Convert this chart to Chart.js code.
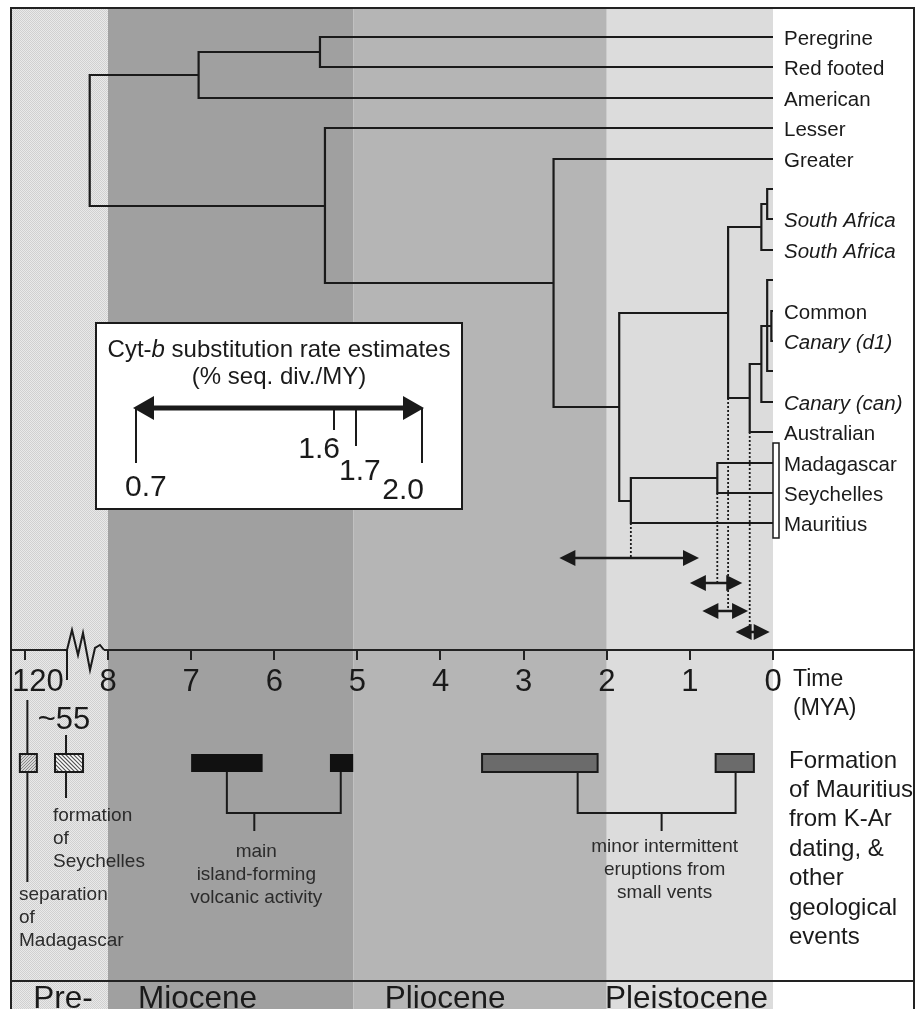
<!DOCTYPE html>
<html><head><meta charset="utf-8">
<script src="https://cdn.jsdelivr.net/npm/chart.js@4.4.1/dist/chart.umd.min.js"></script>
<style>html,body{margin:0;padding:0;background:#fff;overflow:hidden}canvas{display:block}</style>
</head><body>
<canvas id="c" width="916" height="1009"></canvas>
<script>
// ---------------- DATA ----------------
// Tree tips (top to bottom)
const tipNames  = ['Peregrine','Red footed','American','Lesser','Greater','','South Africa','South Africa','','Common','Canary (d1)','','Canary (can)','Australian','Madagascar','Seychelles','Mauritius'];
const tipItalic = [0,0,0,0,0,0,1,1,0,0,1,0,1,0,0,0,0];
// Internal nodes: age (MYA) and children
const nodeIds   = ['n1','n2','n3','n4','n5','n6','n7','n8','n9','n10','n11','n12','n13','n14','n15'];
const nodeAges  = [5.45, 6.91, 8.22, 5.39, 2.64, 1.85, 0.54, 0.14, 0.07, 0.28, 0.14, 0.07, 0.02, 1.71, 0.67];
const nodeKids  = [['t0','t1'],['n1','t2'],['n2','n4'],['t3','n5'],['t4','n6'],['n7','n14'],['n8','n10'],['n9','t7'],['t5','t6'],['n11','t13'],['n12','t12'],['t8','n13','t11'],['t9','t10'],['n15','t16'],['t14','t15']];
// Dated nodes and their age ranges (double-headed arrows)
const datedNodes = ['n14','n15','n7','n10'];
const rangeOld   = [2.57, 1.00, 0.85, 0.45];
const rangeYoung = [0.89, 0.37, 0.30, 0.04];
// Time axis
const axisTickPos    = [0,1,2,3,4,5,6,7,8,9.0];
const axisTickLabels = ['0','1','2','3','4','5','6','7','8','   120'];
// Epochs
const epochNames = ['Pre-','Miocene','Pliocene','Pleistocene'];
const epochOld   = [9.17, 8.0, 5.05, 2.0];
const epochYoung = [8.0, 5.05, 2.0, 0.0];
const epochColors= ['stipple','#a0a0a0','#b5b5b5','#dcdcdc'];
const epochLabelAt = [8.9, 7.64, 4.67, 2.02];
// Geological events (broken-axis positions)
const geoEventLabels = ['120','~55'];
const geoEventPos    = [8.97, 8.505];
// Mauritius formation (K-Ar) — MYA ranges
const mainVolcanic   = [[7.0, 6.14],[5.33, 5.05]];
const minorEruptions = [[3.50, 2.11],[0.69, 0.23]];
const mainBracket    = [6.57, 5.20, 6.24];
const minorBracket   = [2.35, 0.45, 1.34];
// Cyt-b substitution rate estimates (% seq. div./MY)
const rateValues = [0.7, 1.6, 1.7, 2.0];
const rateLabels = ['0.7','1.6','1.7','2.0'];

// ---------------- LAYOUT ----------------
const W = 916, H = 1009;
const FONT = '"Liberation Sans", Arial, Helvetica, sans-serif';
const INK = '#1a1a1a';
const PX_PER_MY = 83.125, ZERO_PX = 773;
const X_MAX = ZERO_PX / PX_PER_MY;
const X_MIN = -(W - ZERO_PX) / PX_PER_MY;
const AXIS_Y = 650;
const tipY = i => Math.round(37 + 30.4 * i);

// build tree geometry from node arrays
const nodeIndex = {}; nodeIds.forEach((id,i)=>nodeIndex[id]=i);
function ageOf(id){ return id[0]==='t' ? 0 : nodeAges[nodeIndex[id]]; }
function yOf(id){
  if (id[0]==='t') return tipY(+id.slice(1));
  const k = nodeKids[nodeIndex[id]];
  return Math.round((yOf(k[0]) + yOf(k[k.length-1]))/2);
}
const treePts = [];
nodeIds.forEach((id,i)=>{
  const k = nodeKids[i], a = nodeAges[i];
  const f = k[0], l = k[k.length-1];
  treePts.push({x:ageOf(f),y:yOf(f)},{x:a,y:yOf(f)},{x:a,y:yOf(l)},{x:ageOf(l),y:yOf(l)},{x:null,y:null});
  for (let j=1;j<k.length-1;j++) treePts.push({x:a,y:yOf(k[j])},{x:ageOf(k[j]),y:yOf(k[j])},{x:null,y:null});
});
const arrowY = [558, 583, 611, 632];
const dropPts = [];
datedNodes.forEach((id,i)=>{
  const k = nodeKids[nodeIndex[id]];
  dropPts.push({x:ageOf(id), y:yOf(k[k.length-1])},{x:ageOf(id), y:arrowY[i]},{x:null,y:null});
});

function makePattern(size, draw){
  const c = document.createElement('canvas'); c.width = c.height = size;
  draw(c.getContext('2d')); return c;
}
const stippleCanvas = makePattern(2, g=>{ g.fillStyle='#e9e9e9'; g.fillRect(0,0,2,2); g.fillStyle='#d0d0d0'; g.fillRect(0,0,1,1); g.fillRect(1,1,1,1); });
const speckCanvas = makePattern(3, g=>{ g.fillStyle='#d6d6d6'; g.fillRect(0,0,3,3); g.fillStyle='#8a8a8a'; g.fillRect(0,0,1,1); g.fillRect(2,1,1,1); g.fillRect(1,2,1,1); });

function multiline(ctx, lines, x, y0, dy, align){
  ctx.textAlign = align; ctx.textBaseline = 'middle';
  lines.forEach((t,i)=>ctx.fillText(t, x, y0 + dy*i));
}
function dblArrow(ctx, x0, x1, y, lw, hl, hw){
  ctx.lineWidth = lw; ctx.beginPath(); ctx.moveTo(x0 + hl*0.7, y); ctx.lineTo(x1 - hl*0.7, y); ctx.stroke();
  ctx.beginPath(); ctx.moveTo(x0, y); ctx.lineTo(x0+hl, y-hw); ctx.lineTo(x0+hl, y+hw); ctx.closePath(); ctx.fill();
  ctx.beginPath(); ctx.moveTo(x1, y); ctx.lineTo(x1-hl, y-hw); ctx.lineTo(x1-hl, y+hw); ctx.closePath(); ctx.fill();
}

const bgPlugin = {
  id:'bg',
  beforeDraw(chart){
    const {ctx} = chart, xs = chart.scales.x;
    ctx.save();
    ctx.fillStyle = '#fff'; ctx.fillRect(0,0,W,H);
    epochNames.forEach((n,i)=>{
      const x0 = i===0 ? 11 : xs.getPixelForValue(epochOld[i]);
      const x1 = xs.getPixelForValue(epochYoung[i]);
      ctx.fillStyle = epochColors[i]==='stipple' ? ctx.createPattern(stippleCanvas,'repeat') : epochColors[i];
      ctx.fillRect(x0, 8, x1-x0, H-8);
    });
    ctx.restore();
  }
};

const fgPlugin = {
  id:'fg',
  afterDatasetsDraw(chart){
    const {ctx} = chart, xs = chart.scales.x, ys = chart.scales.y;
    const X = v => xs.getPixelForValue(v), Y = v => ys.getPixelForValue(v);
    ctx.save();
    ctx.strokeStyle = INK; ctx.fillStyle = INK; ctx.lineCap = 'butt';

    // island group bar
    ctx.fillStyle = '#fff'; ctx.lineWidth = 1.5;
    const by0 = Y(tipY(14)) - 20, by1 = Y(tipY(16)) + 15;
    ctx.fillRect(X(0), by0, 6, by1-by0); ctx.strokeRect(X(0), by0, 6, by1-by0);

    // range arrows
    ctx.fillStyle = INK; ctx.strokeStyle = INK;
    rangeOld.forEach((o,i)=> dblArrow(ctx, X(o), X(rangeYoung[i]), Y(arrowY[i]), 2.5, 16, 8));

    // tip labels
    ctx.textAlign='left'; ctx.textBaseline='middle'; ctx.fillStyle = INK;
    tipNames.forEach((n,i)=>{
      if(!n) return;
      ctx.font = (tipItalic[i]?'italic ':'') + '20.5px ' + FONT;
      ctx.fillText(n, X(0)+11, Y(tipY(i))+2);
    });

    // inset: rate estimates
    const bx0=96, by=323, bx1=462, bb=509;
    ctx.fillStyle='#fff'; ctx.fillRect(bx0,by,bx1-bx0,bb-by);
    ctx.lineWidth=2; ctx.strokeStyle=INK; ctx.strokeRect(bx0,by,bx1-bx0,bb-by);
    ctx.fillStyle=INK;
    const parts = [['Cyt-',''],['b','italic'],[' substitution rate estimates','']];
    let tw=0; parts.forEach(p=>{ctx.font=(p[1]?p[1]+' ':'')+'24px '+FONT; tw+=ctx.measureText(p[0]).width;});
    let tx=(bx0+bx1)/2 - tw/2; ctx.textAlign='left'; ctx.textBaseline='middle';
    parts.forEach(p=>{ctx.font=(p[1]?p[1]+' ':'')+'24px '+FONT; ctx.fillText(p[0],tx,350); tx+=ctx.measureText(p[0]).width;});
    ctx.font='24px '+FONT; ctx.textAlign='center'; ctx.fillText('(% seq. div./MY)',(bx0+bx1)/2,377);
    const rx = r => 136 + (r-0.7)/(2.0-0.7)*(422-136);
    dblArrow(ctx, 133, 424, 408, 5, 21, 12);
    const tickLen = [55, 22, 38, 55];
    const lblAlign = ['left','right','left','right'];
    const lblDx = [-11, 6, -17, 2];
    const lblY = [488, 450, 472, 491];
    ctx.lineWidth=2;
    rateValues.forEach((r,i)=>{
      const x = rx(r);
      ctx.beginPath(); ctx.moveTo(x,408); ctx.lineTo(x,408+tickLen[i]); ctx.stroke();
      ctx.font='30px '+FONT; ctx.textAlign=lblAlign[i]; ctx.textBaseline='middle';
      ctx.fillText(rateLabels[i], x+lblDx[i], lblY[i]);
    });

    // --- bottom panel ---
    const barT=754, barB=772;
    ctx.lineWidth=2; ctx.strokeStyle=INK;
    const evBoxW=[17,28], evBoxDx=[1,3], evTop=[700,735], evBot=[882,798];
    geoEventPos.forEach((p,i)=>{
      const x=X(p);
      ctx.beginPath(); ctx.moveTo(x,evTop[i]); ctx.lineTo(x,barT); ctx.moveTo(x,barB); ctx.lineTo(x,evBot[i]); ctx.stroke();
      const cx=x+evBoxDx[i], w=evBoxW[i];
      if(i===0){ ctx.fillStyle=ctx.createPattern(speckCanvas,'repeat'); ctx.fillRect(cx-w/2,barT,w,barB-barT); }
      else {
        ctx.fillStyle='#fff'; ctx.fillRect(cx-w/2,barT,w,barB-barT);
        ctx.save(); ctx.beginPath(); ctx.rect(cx-w/2,barT,w,barB-barT); ctx.clip();
        ctx.lineWidth=1.2; ctx.strokeStyle='#555';
        for(let k=-30;k<40;k+=4){ ctx.beginPath(); ctx.moveTo(cx-w/2+k,barT); ctx.lineTo(cx-w/2+k+20,barT+20); ctx.stroke(); }
        ctx.restore();
      }
      ctx.lineWidth=2; ctx.strokeStyle=INK; ctx.strokeRect(cx-w/2,barT,w,barB-barT);
    });
    ctx.fillStyle=INK; ctx.font='31px '+FONT; ctx.textAlign='center'; ctx.textBaseline='middle';
    ctx.fillText(geoEventLabels[1], X(geoEventPos[1])-2, 720);
    ctx.fillStyle='#2b2b2b'; ctx.font='19px '+FONT;
    multiline(ctx, ['formation','of','Seychelles'], 53, 816, 23, 'left');
    multiline(ctx, ['separation','of','Madagascar'], 19, 895, 23, 'left');

    ctx.fillStyle='#111';
    mainVolcanic.forEach(r=>{ const a=X(r[0]), b=X(r[1]); ctx.fillRect(a,barT,b-a,barB-barT); });
    minorEruptions.forEach(r=>{ const a=X(r[0]), b=X(r[1]);
      ctx.fillStyle='#6b6b6b'; ctx.fillRect(a,barT,b-a,barB-barT);
      ctx.lineWidth=2; ctx.strokeStyle=INK; ctx.strokeRect(a,barT,b-a,barB-barT); });
    ctx.lineWidth=2; ctx.strokeStyle=INK;
    [mainBracket, minorBracket].forEach(bk=>{
      const a=X(bk[0]), b=X(bk[1]), m=X(bk[2]);
      ctx.beginPath(); ctx.moveTo(a,barB); ctx.lineTo(a,813); ctx.lineTo(b,813); ctx.lineTo(b,barB);
      ctx.moveTo(m,813); ctx.lineTo(m,831); ctx.stroke();
    });
    ctx.fillStyle='#2b2b2b'; ctx.font='19px '+FONT;
    multiline(ctx, ['main','island-forming','volcanic activity'], X(mainBracket[2])+2, 852, 23, 'center');
    multiline(ctx, ['minor intermittent','eruptions from','small vents'], X(minorBracket[2])+3, 847, 23, 'center');

    ctx.fillStyle=INK; ctx.font='23px '+FONT;
    multiline(ctx, ['Time','(MYA)'], 793, 680, 29, 'left');
    ctx.font='24px '+FONT;
    multiline(ctx, ['Formation','of Mauritius','from K-Ar','dating, &','other','geological','events'], 789, 761, 29.4, 'left');

    ctx.font='31.5px '+FONT; ctx.textAlign='left'; ctx.textBaseline='alphabetic'; ctx.fillStyle=INK;
    epochNames.forEach((n,i)=> ctx.fillText(n, X(epochLabelAt[i]), 1008));

    ctx.strokeStyle='#222'; ctx.lineWidth=2;
    ctx.beginPath();
    ctx.moveTo(11,H); ctx.lineTo(11,8); ctx.lineTo(914,8); ctx.lineTo(914,H);
    ctx.moveTo(11,981); ctx.lineTo(914,981);
    ctx.moveTo(11,AXIS_Y); ctx.lineTo(64,AXIS_Y);
    ctx.moveTo(104,AXIS_Y); ctx.lineTo(914,AXIS_Y);
    ctx.stroke();
    ctx.lineWidth=2; ctx.strokeStyle=INK; ctx.lineJoin='miter';
    ctx.beginPath();
    ctx.moveTo(64,AXIS_Y); ctx.lineTo(67,AXIS_Y); ctx.lineTo(72,630); ctx.lineTo(78,655); ctx.lineTo(83,633);
    ctx.lineTo(90,670); ctx.lineTo(95,648); ctx.lineTo(100,645); ctx.lineTo(104,AXIS_Y);
    ctx.moveTo(67,AXIS_Y); ctx.lineTo(67,680);
    ctx.stroke();
    ctx.restore();
  }
};

new Chart(document.getElementById('c'), {
  type:'scatter',
  data:{datasets:[
    {label:'tree', data:treePts, showLine:true, borderColor:INK, borderWidth:2.2, pointRadius:0, spanGaps:false, tension:0},
    {label:'dated nodes', data:dropPts, showLine:true, borderColor:INK, borderWidth:1.8, borderDash:[2,2], pointRadius:0, spanGaps:false}
  ]},
  options:{
    responsive:false, animation:false, events:[], devicePixelRatio:1,
    layout:{padding:0, autoPadding:false},
    plugins:{legend:{display:false}, tooltip:{enabled:false}, title:{display:false}},
    scales:{
      x:{type:'linear', min:X_MIN, max:X_MAX, reverse:true, position:{y:AXIS_Y},
         border:{display:false},
         grid:{drawOnChartArea:false, drawTicks:true, tickLength:10, lineWidth:2, color:'#222'},
         afterBuildTicks: s => { s.ticks = axisTickPos.map(v=>({value:v})); },
         ticks:{autoSkip:false, maxRotation:0, padding:4, color:INK, font:{family:FONT, size:31},
                callback:(v,i)=>axisTickLabels[i]}},
      y:{type:'linear', min:0, max:H, reverse:true, display:false}
    }
  },
  plugins:[bgPlugin, fgPlugin]
});
</script>
</body></html>
